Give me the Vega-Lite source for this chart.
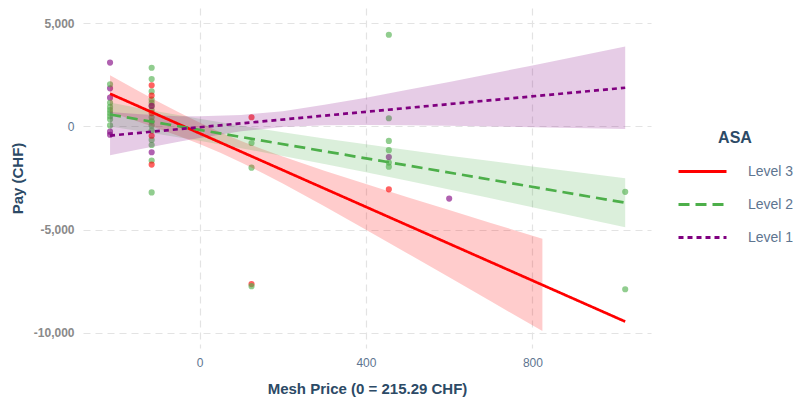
{
  "$schema": "https://vega.github.io/schema/vega-lite/v6.json",
  "autosize": "none",
  "width": 568,
  "height": 340,
  "padding": {"left": 83, "top": 8, "right": 143, "bottom": 53},
  "background": "white",
  "config": {
    "view": {"stroke": null},
    "font": "Liberation Sans",
    "axis": {"grid": true, "gridColor": "#E3E3E3", "gridDash": [7, 5], "gridWidth": 1.2, "domain": false, "ticks": false}
  },
  "datasets": {
    "pts": [
      {"x": -215, "pay": 3100, "grp": "Level 1"},
      {"x": -215, "pay": 1850, "grp": "Level 1"},
      {"x": -215, "pay": 1400, "grp": "Level 1"},
      {"x": -215, "pay": -250, "grp": "Level 1"},
      {"x": -215, "pay": -400, "grp": "Level 1"},
      {"x": -215, "pay": 2050, "grp": "Level 2"},
      {"x": -215, "pay": 1150, "grp": "Level 2"},
      {"x": -215, "pay": 950, "grp": "Level 2"},
      {"x": -215, "pay": 800, "grp": "Level 2"},
      {"x": -215, "pay": 650, "grp": "Level 2"},
      {"x": -215, "pay": 500, "grp": "Level 2"},
      {"x": -215, "pay": 350, "grp": "Level 2"},
      {"x": -215, "pay": 50, "grp": "Level 2"},
      {"x": -115, "pay": 2850, "grp": "Level 2"},
      {"x": -115, "pay": 2300, "grp": "Level 2"},
      {"x": -115, "pay": 1700, "grp": "Level 2"},
      {"x": -115, "pay": 1300, "grp": "Level 2"},
      {"x": -115, "pay": 1150, "grp": "Level 2"},
      {"x": -115, "pay": 1000, "grp": "Level 2"},
      {"x": -115, "pay": 800, "grp": "Level 2"},
      {"x": -115, "pay": 450, "grp": "Level 2"},
      {"x": -115, "pay": 250, "grp": "Level 2"},
      {"x": -115, "pay": 50, "grp": "Level 2"},
      {"x": -115, "pay": -200, "grp": "Level 2"},
      {"x": -115, "pay": -650, "grp": "Level 2"},
      {"x": -115, "pay": -900, "grp": "Level 2"},
      {"x": -115, "pay": -1650, "grp": "Level 2"},
      {"x": -115, "pay": -3200, "grp": "Level 2"},
      {"x": -115, "pay": 2000, "grp": "Level 3"},
      {"x": -115, "pay": 1500, "grp": "Level 3"},
      {"x": -115, "pay": 650, "grp": "Level 3"},
      {"x": -115, "pay": -450, "grp": "Level 3"},
      {"x": -115, "pay": -1850, "grp": "Level 3"},
      {"x": -115, "pay": 1000, "grp": "Level 1"},
      {"x": -115, "pay": -1250, "grp": "Level 1"},
      {"x": 125, "pay": 450, "grp": "Level 3"},
      {"x": 125, "pay": -7650, "grp": "Level 3"},
      {"x": 125, "pay": -800, "grp": "Level 2"},
      {"x": 125, "pay": -2000, "grp": "Level 2"},
      {"x": 125, "pay": -7750, "grp": "Level 2"},
      {"x": 455, "pay": 4450, "grp": "Level 2"},
      {"x": 455, "pay": 400, "grp": "Level 2"},
      {"x": 455, "pay": -700, "grp": "Level 2"},
      {"x": 455, "pay": -1150, "grp": "Level 2"},
      {"x": 455, "pay": -1750, "grp": "Level 2"},
      {"x": 455, "pay": -1950, "grp": "Level 2"},
      {"x": 455, "pay": -1480, "grp": "Level 1"},
      {"x": 455, "pay": -3050, "grp": "Level 3"},
      {"x": 600, "pay": -3500, "grp": "Level 1"},
      {"x": 1023, "pay": -3170, "grp": "Level 2"},
      {"x": 1023, "pay": -7900, "grp": "Level 2"}
    ],
    "line": [
      {"x": -215, "fit": 1590, "level": "Level 3"},
      {"x": 1023, "fit": -9467, "level": "Level 3"},
      {"x": -215, "fit": 580, "level": "Level 2"},
      {"x": 1023, "fit": -3700, "level": "Level 2"},
      {"x": -215, "fit": -440, "level": "Level 1"},
      {"x": 1023, "fit": 1880, "level": "Level 1"}
    ],
    "band": [
      {"x": -215, "lo": 690, "hi": 2490, "grp": "Level 3"},
      {"x": -150, "lo": 256, "hi": 1764, "grp": "Level 3"},
      {"x": -100, "lo": -92, "hi": 1218, "grp": "Level 3"},
      {"x": -50, "lo": -457, "hi": 691, "grp": "Level 3"},
      {"x": 0, "lo": -850, "hi": 190, "grp": "Level 3"},
      {"x": 50, "lo": -1276, "hi": -276, "grp": "Level 3"},
      {"x": 100, "lo": -1743, "hi": -703, "grp": "Level 3"},
      {"x": 150, "lo": -2244, "hi": -1096, "grp": "Level 3"},
      {"x": 200, "lo": -2771, "hi": -1461, "grp": "Level 3"},
      {"x": 300, "lo": -3874, "hi": -2144, "grp": "Level 3"},
      {"x": 400, "lo": -5009, "hi": -2795, "grp": "Level 3"},
      {"x": 500, "lo": -6160, "hi": -3430, "grp": "Level 3"},
      {"x": 600, "lo": -7319, "hi": -4057, "grp": "Level 3"},
      {"x": 700, "lo": -8483, "hi": -4679, "grp": "Level 3"},
      {"x": 824, "lo": -9930, "hi": -5446, "grp": "Level 3"},
      {"x": -215, "lo": 0, "hi": 1160, "grp": "Level 2"},
      {"x": -150, "lo": -202, "hi": 912, "grp": "Level 2"},
      {"x": -100, "lo": -363, "hi": 727, "grp": "Level 2"},
      {"x": 0, "lo": -698, "hi": 372, "grp": "Level 2"},
      {"x": 100, "lo": -1054, "hi": 36, "grp": "Level 2"},
      {"x": 200, "lo": -1429, "hi": -281, "grp": "Level 2"},
      {"x": 300, "lo": -1819, "hi": -581, "grp": "Level 2"},
      {"x": 400, "lo": -2224, "hi": -868, "grp": "Level 2"},
      {"x": 500, "lo": -2638, "hi": -1146, "grp": "Level 2"},
      {"x": 600, "lo": -3059, "hi": -1415, "grp": "Level 2"},
      {"x": 700, "lo": -3486, "hi": -1680, "grp": "Level 2"},
      {"x": 800, "lo": -3917, "hi": -1941, "grp": "Level 2"},
      {"x": 900, "lo": -4351, "hi": -2197, "grp": "Level 2"},
      {"x": 1023, "lo": -4890, "hi": -2510, "grp": "Level 2"},
      {"x": -215, "lo": -1390, "hi": 700, "grp": "Level 1"},
      {"x": -150, "lo": -1131, "hi": 600, "grp": "Level 1"},
      {"x": -100, "lo": -936, "hi": 540, "grp": "Level 1"},
      {"x": -50, "lo": -745, "hi": 500, "grp": "Level 1"},
      {"x": 0, "lo": -562, "hi": 500, "grp": "Level 1"},
      {"x": 100, "lo": -237, "hi": 560, "grp": "Level 1"},
      {"x": 200, "lo": -25, "hi": 740, "grp": "Level 1"},
      {"x": 300, "lo": 58, "hi": 1050, "grp": "Level 1"},
      {"x": 400, "lo": 71, "hi": 1400, "grp": "Level 1"},
      {"x": 500, "lo": 57, "hi": 1780, "grp": "Level 1"},
      {"x": 600, "lo": 31, "hi": 2160, "grp": "Level 1"},
      {"x": 700, "lo": -1, "hi": 2560, "grp": "Level 1"},
      {"x": 800, "lo": -36, "hi": 2960, "grp": "Level 1"},
      {"x": 900, "lo": -73, "hi": 3371, "grp": "Level 1"},
      {"x": 1023, "lo": -120, "hi": 3880, "grp": "Level 1"}
    ]
  },
  "layer": [
    {
      "data": {"name": "pts"},
      "mark": {"type": "circle", "size": 38, "opacity": 0.62},
      "encoding": {
        "x": {"field": "x", "type": "quantitative", "scale": {"domain": [-280, 1085], "nice": false, "zero": false},
          "axis": {"values": [0, 400, 800], "title": "Mesh Price (0 = 215.29 CHF)", "labelColor": "#5E7590", "labelFontSize": 12, "labelPadding": 9,
            "titleFontSize": 15, "titleFontWeight": "bold", "titleColor": "#2C4A66", "titleY": 40, "titleBaseline": "middle"}},
        "y": {"field": "pay", "type": "quantitative", "scale": {"domain": [-10750, 5750], "nice": false, "zero": false},
          "axis": {"values": [-10000, -5000, 0, 5000], "title": "Pay (CHF)", "labelExpr": "replace(format(datum.value, ','), '\u2212', '-')",
            "labelColor": {"condition": {"test": "datum.value == 0", "value": "#5E7590"}, "value": "#8A8A8A"},
            "labelFontWeight": {"condition": {"test": "datum.value == 0", "value": "normal"}, "value": "bold"},
            "labelFontSize": 12, "labelPadding": 9,
            "titleFontSize": 15, "titleFontWeight": "bold", "titleColor": "#2C4A66", "titleX": -66, "titleY": 170, "titleAngle": -90, "titleBaseline": "middle", "titleAlign": "center"}},
        "fill": {"field": "grp", "type": "nominal", "scale": {"domain": ["Level 1", "Level 2", "Level 3"], "range": ["#800080", "#4DAF4A", "#FF0000"]}, "legend": null}
      }
    },
    {
      "data": {"name": "band"},
      "mark": {"type": "area", "opacity": 0.2},
      "encoding": {
        "x": {"field": "x", "type": "quantitative"},
        "y": {"field": "lo", "type": "quantitative"},
        "y2": {"field": "hi"},
        "fill": {"field": "grp", "type": "nominal", "legend": null},
        "detail": {"field": "grp"}
      }
    },
    {
      "data": {"name": "line"},
      "mark": {"type": "line", "strokeWidth": 2.7},
      "encoding": {
        "x": {"field": "x", "type": "quantitative"},
        "y": {"field": "fit", "type": "quantitative"},
        "stroke": {"field": "level", "type": "nominal", "title": "ASA", "scale": {"domain": ["Level 3", "Level 2", "Level 1"], "range": ["#FF0000", "#4DAF4A", "#800080"]},
          "legend": {"orient": "none", "legendX": 594, "legendY": 122, "titleFontSize": 16, "titleFontWeight": "bold", "titleColor": "#2C4A66", "titleAnchor": "middle", "titlePadding": 0,
            "labelFontSize": 14, "labelColor": "#5E7590", "labelOffset": 20, "symbolType": "stroke", "symbolSize": 2304, "symbolStrokeWidth": 3, "rowPadding": -8}},
        "strokeDash": {"field": "level", "type": "nominal", "title": "ASA", "scale": {"domain": ["Level 3", "Level 2", "Level 1"], "range": [[1, 0], [11, 6], [5, 4]]}}
      }
    }
  ]
}
